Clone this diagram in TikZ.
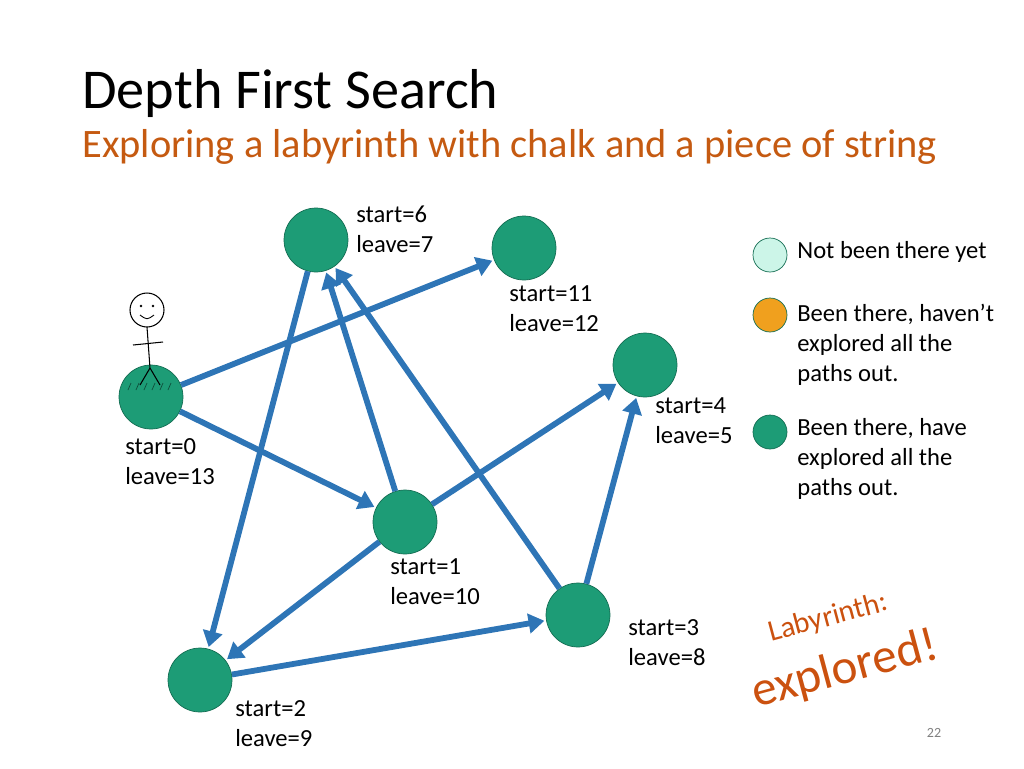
\documentclass[tikz,border=0pt]{standalone}
\usepackage{fontspec}
\setmainfont{Carlito}
\usetikzlibrary{arrows.meta}
\definecolor{vgreen}{RGB}{29,156,118}
\definecolor{vedge}{RGB}{46,117,182}
\definecolor{vrust}{RGB}{197,90,17}
\definecolor{vmint}{RGB}{204,245,232}
\definecolor{vorange}{RGB}{240,160,30}
\tikzset{
  vertex/.style={circle, draw=vgreen!70!black, fill=vgreen, minimum size=1.28cm, inner sep=0pt},
  key/.style={circle, draw=vgreen!70!black, minimum size=0.68cm, inner sep=0pt},
  lbl/.style={align=left, anchor=north west, font=\fontsize{14}{17}\selectfont, inner sep=0pt},
  edge/.style={vedge, line width=3.3pt, -{Triangle[length=9pt,width=11pt]}, shorten >=1pt}
}
\begin{document}
\begin{tikzpicture}[x=0.02cm, y=-0.02cm]
\useasboundingbox (0,0) rectangle (1024,768);

\node [anchor=base west, inner sep=0pt, font=\fontsize{32}{34}\selectfont] (title) at (82,108) {Depth First Search};
\node [anchor=base west, inner sep=0pt, text=vrust, font=\fontsize{23}{26}\selectfont] (subtitle) at (82,157) {Exploring a labyrinth with chalk and a piece of string};

% vertices
\node [vertex] (v0) at (151,397) {};
\node [vertex] (v1) at (405,522) {};
\node [vertex] (v2) at (200,680) {};
\node [vertex] (v3) at (578,615) {};
\node [vertex] (v4) at (645,365) {};
\node [vertex] (v6) at (316,240) {};
\node [vertex] (v11) at (524,248) {};

\node [lbl] at (125,438) {start=0\\leave=13};
\node [lbl] at (390,558) {start=1\\leave=10};
\node [lbl] at (235,700) {start=2\\leave=9};
\node [lbl] at (628,619) {start=3\\leave=8};
\node [lbl] at (655,397) {start=4\\leave=5};
\node [lbl] at (356,206) {start=6\\leave=7};
\node [lbl] at (509,285) {start=11\\leave=12};

% edges
\draw [edge] (v0) -- (v11);
\draw [edge] (v0) -- (v1);
\draw [edge] (v1) -- (v6);
\draw [edge] (v1) -- (v4);
\draw [edge] (v1) -- (v2);
\draw [edge] (v6) -- (v2);
\draw [edge] (v2) -- (v3);
\draw [edge] (v3) -- (v4);
\draw [edge] (v3) -- (v6);

% stick figure
\draw [line width=0.6pt] (147,310) circle (17);
\draw [line width=0.6pt] (147,327) -- (150,368) (133,345) -- (163,342)
  (150,368) -- (140,385) (150,368) -- (160,385);
\fill (141,306) circle (1.3) (153,306) circle (1.3);
\draw [line width=0.5pt] (140,315) .. controls (147,320) .. (154,315);
\foreach \g in {128,136,...,168}
  \draw [vgreen!50!black, line width=0.4pt] (\g,390) -- (\g+3,383);

% legend
\node [key, fill=vmint] (k1) at (770,255) {};
\node [key, fill=vorange] (k2) at (770,315) {};
\node [key, fill=vgreen] (k3) at (770,432) {};
\node [lbl] at (797,241) {Not been there yet};
\node [lbl] at (797,304) {Been there, haven’t\\explored all the\\paths out.};
\node [lbl] at (797,418) {Been there, have\\explored all the\\paths out.};

\node [rotate=15, text=vrust!90!red, inner sep=0pt, font=\fontsize{17}{20}\selectfont] (lab) at (828,618) {Labyrinth:};
\node [rotate=15, text=vrust!90!red, inner sep=0pt, font=\fontsize{28}{30}\selectfont] (expl) at (845,670) {explored!};
\node [text=gray, font=\fontsize{8}{10}\selectfont] (page) at (934,733) {22};
\end{tikzpicture}
\end{document}
